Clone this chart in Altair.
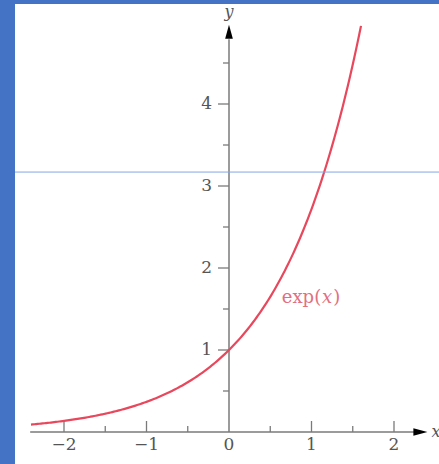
import numpy as np
import pandas as pd
import altair as alt

# ---- values -------------------------------------------------------------
x_major = [-2, -1, 1, 2]
x_minor = [-1.5, -0.5, 0.5, 1.5]
x_label_pos = [-2, -1, 0, 1, 2]
x_label_text = ["\u22122", "\u22121", "0", "1", "2"]
y_major = [1, 2, 3, 4]
y_minor = [0.5, 1.5, 2.5, 3.5, 4.5]
y_label_text = ["1", "2", "3", "4"]
curve_range = [-2.4, 1.6]
x_axis_span = [-2.41, 2.26]
y_axis_span = [0.0, 4.79]
x_arrow_at = 2.32
y_arrow_at = 4.88
guide_level = 3.17
curve_label_parts = ["exp(", "x", ")"]
curve_label_at = [1.19, 1.64]   # position of the italic argument

# ---- geometry (pixels) ---------------------------------------------------
W, H = 424, 460
PX_X, PX_Y = 82.5, 82.0        # pixels per unit
ORIGIN_PX = (214, 428)          # origin inside the plot area
x_dom = [-ORIGIN_PX[0] / PX_X, (W - ORIGIN_PX[0]) / PX_X]
y_dom = [-(H - ORIGIN_PX[1]) / PX_Y, ORIGIN_PX[1] / PX_Y]

xs = alt.Scale(domain=x_dom, nice=False, zero=False)
ys = alt.Scale(domain=y_dom, nice=False, zero=False)


def X(f):
    return alt.X(f, type="quantitative", scale=xs, axis=None)


def Y(f):
    return alt.Y(f, type="quantitative", scale=ys, axis=None)


AXIS_GREY = "#7a7a7a"
LABEL_GREY = "#555555"
SERIF = "DejaVu Serif"
MAJOR_LEN, MINOR_LEN = 11, 6
LABEL_RED = "#e2707f"

# ---- data tables ---------------------------------------------------------
grid = np.linspace(curve_range[0], curve_range[1], 200)
curve_df = pd.DataFrame({"x": grid, "y": np.exp(grid)})

xtick_df = pd.DataFrame({
    "x": x_major + x_minor,
    "y": 0.0,
    "y2": [MAJOR_LEN / PX_Y] * len(x_major) + [MINOR_LEN / PX_Y] * len(x_minor),
})
ytick_df = pd.DataFrame({
    "y": y_major + y_minor,
    "x": [-MAJOR_LEN / PX_X] * len(y_major) + [-MINOR_LEN / PX_X] * len(y_minor),
    "x2": 0.0,
})
xlab_df = pd.DataFrame({"x": x_label_pos, "y": 0.0, "t": x_label_text})
ylab_df = pd.DataFrame({"x": 0.0, "y": y_major, "t": y_label_text})

# ---- layers --------------------------------------------------------------
x_line = alt.Chart(pd.DataFrame({"x": [x_axis_span[0]], "x2": [x_axis_span[1]], "y": [0.0]})).mark_rule(
    color=AXIS_GREY, strokeWidth=1.5
).encode(x=X("x"), x2="x2", y=Y("y"))

y_line = alt.Chart(pd.DataFrame({"x": [0.0], "y": [y_axis_span[0]], "y2": [y_axis_span[1]]})).mark_rule(
    color=AXIS_GREY, strokeWidth=1.5
).encode(x=X("x"), y=Y("y"), y2="y2")

x_ticks = alt.Chart(xtick_df).mark_rule(color=AXIS_GREY, strokeWidth=1.3).encode(
    x=X("x"), y=Y("y"), y2="y2"
)
y_ticks = alt.Chart(ytick_df).mark_rule(color=AXIS_GREY, strokeWidth=1.3).encode(
    y=Y("y"), x=X("x"), x2="x2"
)

x_head = alt.Chart(pd.DataFrame({"x": [x_arrow_at], "y": [0.0]})).mark_point(
    shape="M1,0L-1,0.55L-1,-0.55Z", filled=True, size=196, color="black", opacity=1
).encode(x=X("x"), y=Y("y"))
y_head = alt.Chart(pd.DataFrame({"x": [0.0], "y": [y_arrow_at]})).mark_point(
    shape="M0,-1L0.55,1L-0.55,1Z", filled=True, size=196, color="black", opacity=1
).encode(x=X("x"), y=Y("y"))

x_labels = alt.Chart(xlab_df).mark_text(
    font=SERIF, fontSize=17, color=LABEL_GREY, baseline="middle", align="center", dy=13
).encode(x=X("x"), y=Y("y"), text="t:N")
y_labels = alt.Chart(ylab_df).mark_text(
    font=SERIF, fontSize=17, color=LABEL_GREY, baseline="middle", align="right", dx=-17
).encode(x=X("x"), y=Y("y"), text="t:N")

x_name = alt.Chart(pd.DataFrame({"x": [x_arrow_at], "y": [0.0], "t": ["x"]})).mark_text(
    font=SERIF, fontSize=16, fontStyle="italic", color=LABEL_GREY, align="left", baseline="middle", dx=11
).encode(x=X("x"), y=Y("y"), text="t:N")
y_name = alt.Chart(pd.DataFrame({"x": [0.0], "y": [y_arrow_at], "t": ["y"]})).mark_text(
    font=SERIF, fontSize=16, fontStyle="italic", color=LABEL_GREY, align="center", baseline="middle", dy=-20
).encode(x=X("x"), y=Y("y"), text="t:N")

curve = alt.Chart(curve_df).mark_line(color="#e8475c", strokeWidth=2.2).encode(
    x=X("x"), y=Y("y")
)

# curve label: "exp(" upright, argument italic, ")" upright
lab_df = pd.DataFrame({"x": [curve_label_at[0]], "y": [curve_label_at[1]]})
lab_head = alt.Chart(lab_df).mark_text(
    text=curve_label_parts[0], font=SERIF, fontSize=18, color=LABEL_RED,
    align="right", baseline="middle", dx=-6
).encode(x=X("x"), y=Y("y"))
lab_arg = alt.Chart(lab_df).mark_text(
    text=curve_label_parts[1], font=SERIF, fontSize=18, fontStyle="italic", color=LABEL_RED,
    align="center", baseline="middle"
).encode(x=X("x"), y=Y("y"))
lab_tail = alt.Chart(lab_df).mark_text(
    text=curve_label_parts[2], font=SERIF, fontSize=18, color=LABEL_RED,
    align="left", baseline="middle", dx=6
).encode(x=X("x"), y=Y("y"))

guide = alt.Chart(pd.DataFrame({"y": [guide_level]})).mark_rule(
    color="#86a6e4", strokeWidth=1
).encode(y=Y("y"))

chart = alt.layer(
    x_line, y_line, x_ticks, y_ticks, x_head, y_head,
    x_labels, y_labels, x_name, y_name, curve,
    lab_head, lab_arg, lab_tail, guide
).properties(
    width=W,
    height=H,
    background="#4472c4",
    padding={"left": 15, "top": 4, "right": 0, "bottom": 0},
    autosize=alt.AutoSizeParams(type="none"),
).configure_view(fill="white", strokeWidth=0)

chart.save("out.html", embed_options={"renderer": "svg", "actions": False})
